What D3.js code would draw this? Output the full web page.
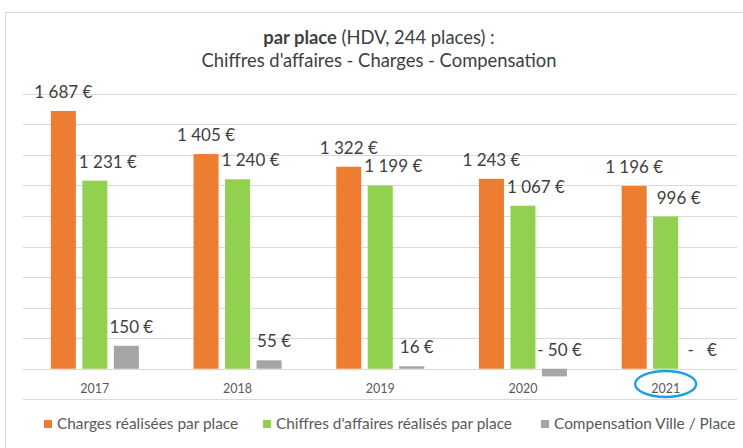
<!DOCTYPE html>
<html><head><meta charset="utf-8">
<script src="https://cdn.jsdelivr.net/npm/d3@7"></script>
<style>
body{margin:0;background:#fff;}
svg{display:block;font-family:Lato,"Open Sans",sans-serif;}
text{white-space:pre;}
</style></head>
<body><svg id="chart" width="743" height="448"></svg>
<script>
const years = ["2017","2018","2019","2020","2021"];
const charges = [1687,1405,1322,1243,1196];
const chiffres = [1231,1240,1199,1067,996];
const compensation = [150,55,16,-50,0];
const seriesNames = ["Charges réalisées par place","Chiffres d'affaires réalisés par place","Compensation Ville / Place"];
const seriesColors = ["#ED7D31","#92D050","#A5A5A5"];
const yTicks = [-200,0,200,400,600,800,1000,1200,1400,1600,1800];

const seriesValues = [charges, chiffres, compensation];
const svg = d3.select("#chart");

// outer border
svg.append("rect").attr("x",5.5).attr("y",12.5).attr("width",800).attr("height",500)
  .attr("fill","none").attr("stroke","#d9d9d9");

const x = d3.scaleBand().domain(years).range([23.5,737]);
const x1 = d3.scaleBand().domain([0,1,2]).range([-44,44]).paddingInner(0.206);
const y = d3.scaleLinear().domain([-200,1800]).range([399.3,93.7]);

// gridlines
svg.append("g").selectAll("line").data(yTicks).join("line")
  .attr("x1",23).attr("x2",737)
  .attr("y1",d=>Math.round(y(d))+0.5).attr("y2",d=>Math.round(y(d))+0.5)
  .attr("stroke","#d9d9d9").attr("stroke-width",1);

// title
const title = svg.append("text").attr("x",379).attr("y",38).attr("dy","0.35em").attr("text-anchor","middle")
  .attr("font-size",18.4).attr("fill","#404040");
title.append("tspan").attr("font-weight","bold").text("par place");
title.append("tspan").text(" (HDV, 244 places) :");
svg.append("text").attr("x",379).attr("y",61).attr("dy","0.35em").attr("text-anchor","middle")
  .attr("font-size",18.4).attr("fill","#404040").text("Chiffres d'affaires - Charges - Compensation");

const fmtNum = d3.formatLocale({decimal:",",thousands:" ",grouping:[3],currency:["","€"]}).format(",d");
function fmt(v){
  if(v===0) return "-   €";
  if(v<0) return "- "+fmtNum(-v)+" €";
  return fmtNum(v)+" €";
}
const labelDx = [0,13,5];

const data = [];
years.forEach((yr,i)=>{
  seriesValues.forEach((vals,s)=>{ data.push({yr,s,v:vals[i]}); });
});

svg.append("g").selectAll("rect").data(data.filter(d=>d.v!==0)).join("rect")
  .attr("x",d=>x(d.yr)+x.bandwidth()/2+x1(d.s))
  .attr("width",x1.bandwidth())
  .attr("y",d=>y(Math.max(d.v,0)))
  .attr("height",d=>Math.abs(y(d.v)-y(0)))
  .attr("fill",d=>seriesColors[d.s]);

svg.append("g").selectAll("text").data(data).join("text")
  .attr("x",d=>x(d.yr)+x.bandwidth()/2+x1(d.s)+x1.bandwidth()/2+labelDx[d.s])
  .attr("y",d=>y(Math.max(d.v,0))-19)
  .attr("dy","0.35em")
  .attr("text-anchor","middle")
  .attr("font-size",17).attr("fill","#404040")
  .text(d=>fmt(d.v));

// category axis labels
svg.append("g").selectAll("text").data(years).join("text")
  .attr("x",d=>x(d)+x.bandwidth()/2).attr("y",389).attr("dy","0.35em")
  .attr("text-anchor","middle").attr("font-size",12.5).attr("fill","#595959")
  .text(d=>d);

// highlight ellipse around 2021
svg.append("ellipse").attr("cx",x("2021")+x.bandwidth()/2).attr("cy",384)
  .attr("rx",30.5).attr("ry",13).attr("fill","none")
  .attr("stroke","#1BA1E2").attr("stroke-width",2.4);

// legend
const legendX = [44,263,541];
const lg = svg.append("g").selectAll("g").data(seriesNames).join("g")
  .attr("transform",(d,i)=>`translate(${legendX[i]},424)`);
lg.append("rect").attr("x",0).attr("y",-4).attr("width",8).attr("height",8)
  .attr("fill",(d,i)=>seriesColors[i]);
lg.append("text").attr("x",13).attr("y",0).attr("dy","0.35em")
  .attr("font-size",15.4).attr("fill","#595959").text(d=>d);
</script></body></html>
